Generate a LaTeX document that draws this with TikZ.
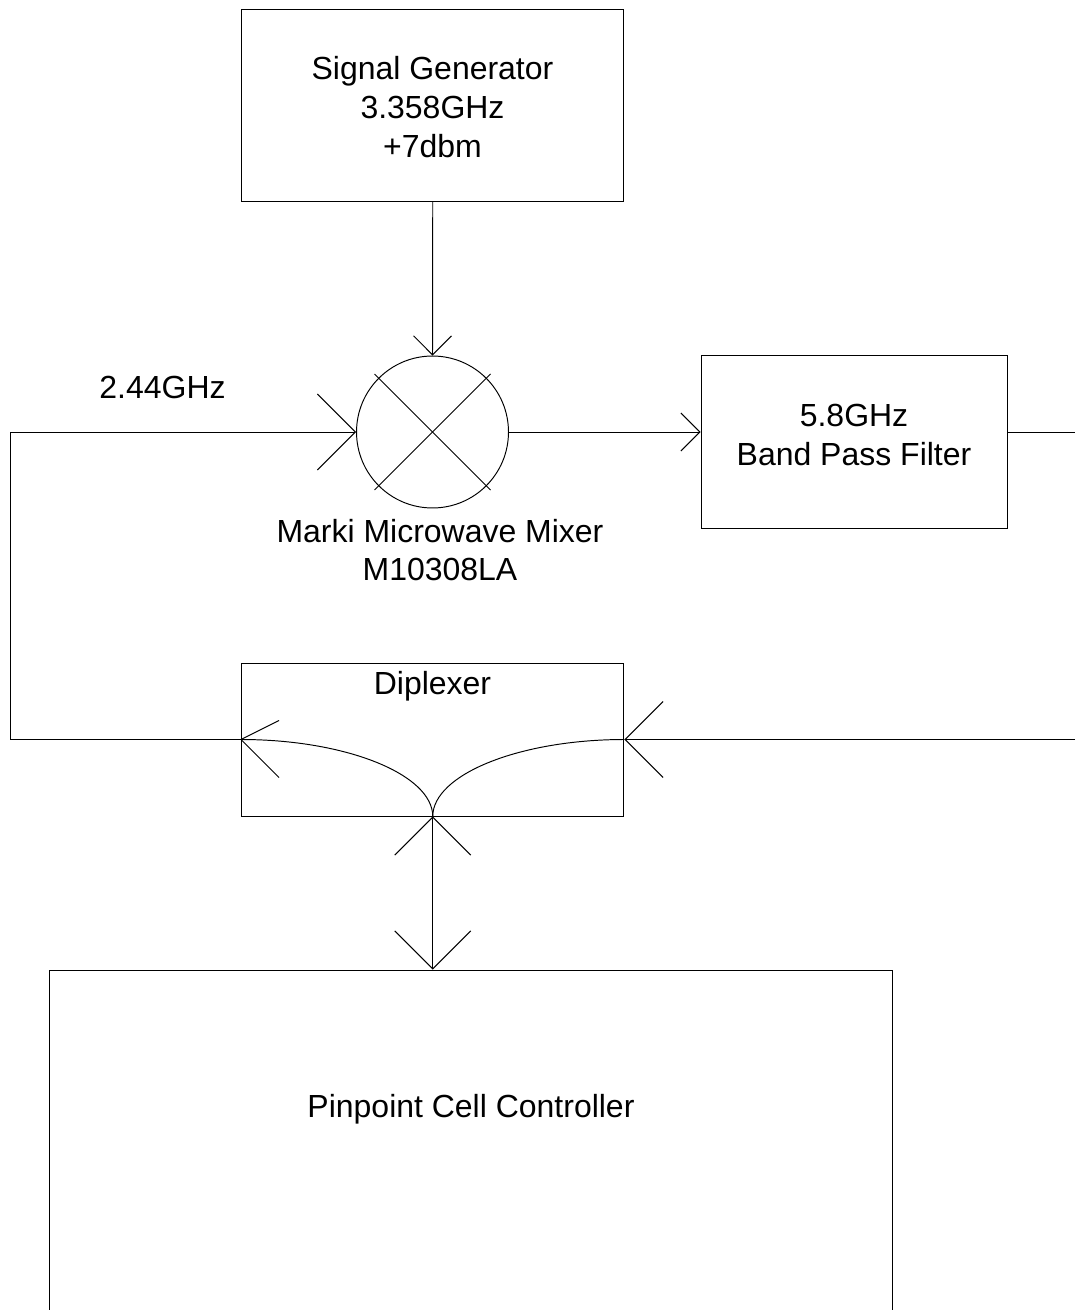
\documentclass[tikz,border=0pt]{standalone}
\usepackage{fontspec}
\setmainfont{Liberation Sans}
\usetikzlibrary{arrows.meta}
\tikzset{
  blockbox/.style={draw, minimum width=#1, inner sep=0pt},
  smalltip/.tip={Straight Barb[length=0.38cm, width=0.76cm, line width=0.55pt]},
  bigtip/.tip={Straight Barb[length=0.76cm, width=1.52cm, line width=0.55pt]},
  every node/.style={font=\fontsize{18.2}{22}\selectfont, align=center}
}
\begin{document}
\begin{tikzpicture}[x=0.02cm, y=-0.02cm, line width=0.55pt]
\useasboundingbox (0,0) rectangle (1075,1310);

\node[blockbox=7.65cm, minimum height=3.84cm] (gen) at (432.75,105.5) {};
\node[draw, circle, minimum size=3.04cm, inner sep=0pt] (mixer) at (432.5,432) {};
\node[blockbox=6.12cm, minimum height=3.46cm] (filter) at (854,441.5) {};
\node[blockbox=7.65cm, minimum height=3.06cm] (diplexer) at (432.75,739.5) {};
\node[draw, minimum width=16.86cm, minimum height=7cm] (ctrl) at (471,1145) {};
\node (genlabel) at (432.5,107) {Signal Generator\\3.358GHz\\+7dbm};
\node (filterlabel) at (854,435) {5.8GHz\\Band Pass Filter};
\node (diplabel) at (432.5,686) {Diplexer};
\node (ctrllabel) at (471,1109) {Pinpoint Cell Controller};
\node (freq) at (162.5,387) {2.44GHz};
\node (mixlabel) at (440,550) {Marki Microwave Mixer\\M10308LA};

\coordinate (cl) at (10,432);
\coordinate (cb) at (10,739.5);
\coordinate (rt) at (1075,432);
\coordinate (rb) at (1075,739.5);

% crossed lines of the mixer
\draw (mixer.center) ++(-58,-58) -- ++(116,116);
\draw (mixer.center) ++(58,-58) -- ++(-116,116);

\draw[-smalltip] (gen.south) -- (mixer.north);
\draw[-bigtip] (diplexer.west) -- (cb) -- (cl) -- (mixer.west);
\draw[-smalltip] (mixer.east) -- (filter.west |- mixer.east);
\draw (filter.east |- rt) -- (rt);
\draw[-bigtip] (rb) -- (diplexer.east);

% inside the diplexer
\draw (diplexer.west) .. controls +(105,0) and +(0,-42) .. (diplexer.south);
\draw (diplexer.east) .. controls +(-105,0) and +(0,-42) .. (diplexer.south);
\draw (diplexer.west) -- ++(38,-19);
\draw (diplexer.west) -- ++(38,38);

\draw[bigtip-bigtip] (diplexer.south) -- (diplexer.south |- ctrl.north);
\end{tikzpicture}
\end{document}
